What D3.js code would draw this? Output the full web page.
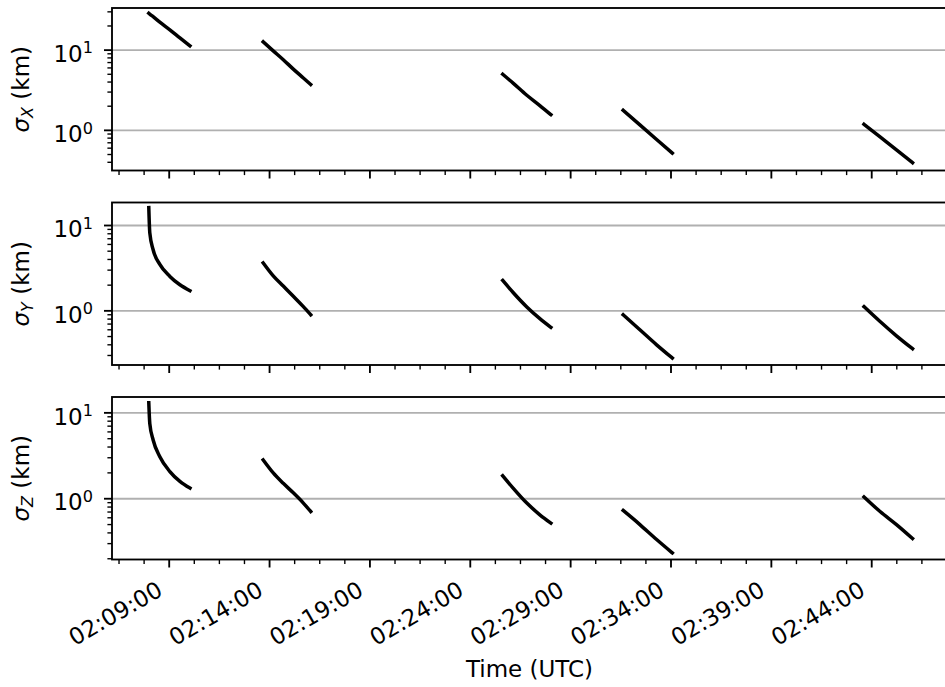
<!DOCTYPE html>
<html>
<head>
<meta charset="utf-8">
<script src="https://cdn.jsdelivr.net/npm/d3@7"></script>
<style>
  body { margin: 0; background: #fff; }
  svg { display: block; }
  text { font-family: "DejaVu Sans", sans-serif; fill: #000; }
</style>
</head>
<body>
<svg id="chart" width="945" height="687"></svg>
<script>
// Sample times of each tracking pass (UTC)
const pass1Times = ["02:07:59", "02:08:02", "02:08:12", "02:08:32", "02:09:02", "02:09:32", "02:10:02"];
const pass2Times = ["02:13:41", "02:14:11", "02:14:41", "02:15:11", "02:15:41", "02:16:03"];
const pass3Times = ["02:25:37", "02:26:08", "02:26:49", "02:27:28", "02:28:01"];
const pass4Times = ["02:31:37", "02:32:27", "02:33:17", "02:34:04"];
const pass5Times = ["02:43:37", "02:44:25", "02:45:14", "02:46:02"];

// Position uncertainty (km), one list per pass
const sigmaX = [
  [28.8, 28.1, 26.1, 22.3, 17.9, 14.2, 11.3],
  [12.7, 9.8, 7.6, 5.8, 4.5, 3.73],
  [5.0, 3.88, 2.74, 2.04, 1.57],
  [1.78, 1.17, 0.77, 0.52],
  [1.19, 0.83, 0.57, 0.395]
];
const sigmaY = [
  [16.2, 8.2, 5.2, 3.5, 2.53, 2.02, 1.72],
  [3.64, 2.57, 1.95, 1.48, 1.12, 0.90],
  [2.27, 1.64, 1.11, 0.81, 0.64],
  [0.90, 0.60, 0.40, 0.28],
  [1.12, 0.75, 0.51, 0.36]
];
const sigmaZ = [
  [13.1, 7.5, 4.83, 3.09, 2.07, 1.59, 1.33],
  [2.83, 2.0, 1.51, 1.17, 0.89, 0.71],
  [1.85, 1.33, 0.89, 0.65, 0.52],
  [0.73, 0.50, 0.335, 0.234],
  [1.05, 0.71, 0.50, 0.344]
];

// Axis limits
const timeLimits = ["02:06:09", "02:47:57"];
const majorTickStart = "02:09:00";
const yLimitsX = [0.316, 33.5];
const yLimitsY = [0.232, 18.6];
const yLimitsZ = [0.196, 15.3];
const axisNames = ["X", "Y", "Z"];
const xAxisTitle = "Time (UTC)";

const parseTime = d3.utcParse("%H:%M:%S");
const fmtTime = d3.utcFormat("%H:%M:%S");
const passTimes = [pass1Times, pass2Times, pass3Times, pass4Times, pass5Times].map(a => a.map(parseTime));

const svg = d3.select("#chart");
const left = 112, right = 951, panelH = 162.5;
const panelTops = [8, 202.5, 397];
const fontSize = 23;
const majorLen = 8, minorLen = 4.6, tickW = 1.85;

const x = d3.scaleUtc().domain(timeLimits.map(parseTime)).range([left, right]);

// Major ticks every 5 min, minor every 75 s
const t0 = parseTime(majorTickStart);
const tEnd = x.domain()[1];
const majorTicks = [];
for (let t = +t0; t <= +tEnd; t += 5 * 60000) majorTicks.push(new Date(t));
const minorTicks = [];
for (let t = +t0 - 2 * 75000; t <= +tEnd; t += 75000) {
  if ((t - t0) % 300000 !== 0) minorTicks.push(new Date(t));
}

const line = d3.line().curve(d3.curveMonotoneX);

const panels = [
  { name: axisNames[0], values: sigmaX, limits: yLimitsX },
  { name: axisNames[1], values: sigmaY, limits: yLimitsY },
  { name: axisNames[2], values: sigmaZ, limits: yLimitsZ }
];

panels.forEach((p, i) => {
  const top = panelTops[i], bottom = top + panelH;
  const y = d3.scaleLog().domain(p.limits).range([bottom, top]);
  const g = svg.append("g");

  const lo = Math.floor(Math.log10(p.limits[0])), hi = Math.ceil(Math.log10(p.limits[1]));
  const majors = [], minors = [];
  for (let e = lo; e <= hi; e++) {
    const base = Math.pow(10, e);
    if (base >= p.limits[0] && base <= p.limits[1]) majors.push({ v: base, e });
    for (let m = 2; m <= 9; m++) {
      const v = m * base;
      if (v >= p.limits[0] && v <= p.limits[1]) minors.push(v);
    }
  }

  // horizontal grid at decades
  g.selectAll(".grid").data(majors).join("line")
    .attr("x1", left).attr("x2", right)
    .attr("y1", d => y(d.v)).attr("y2", d => y(d.v))
    .attr("stroke", "#b0b0b0").attr("stroke-width", 1.85);

  // uncertainty curves per pass
  g.selectAll(".pass").data(p.values).join("path")
    .attr("d", (vals, k) => line(vals.map((v, j) => [x(passTimes[k][j]), y(v)])))
    .attr("fill", "none").attr("stroke", "#000").attr("stroke-width", 3.5)
    .attr("stroke-linecap", "square");

  // y ticks
  g.selectAll(".ymaj").data(majors).join("line")
    .attr("x1", left - majorLen).attr("x2", left)
    .attr("y1", d => y(d.v)).attr("y2", d => y(d.v))
    .attr("stroke", "#000").attr("stroke-width", tickW);
  g.selectAll(".ymin").data(minors).join("line")
    .attr("x1", left - minorLen).attr("x2", left)
    .attr("y1", d => y(d)).attr("y2", d => y(d))
    .attr("stroke", "#000").attr("stroke-width", tickW * 0.75);
  const lab = g.selectAll(".ylab").data(majors).join("text")
    .attr("x", 93).attr("y", d => y(d.v) + 11.7)
    .attr("text-anchor", "end").style("font-size", fontSize + "px");
  lab.append("tspan").text("10");
  lab.append("tspan").attr("dy", -8.5).style("font-size", (fontSize * 0.7) + "px").text(d => d.e);

  // x ticks
  g.selectAll(".xmaj").data(majorTicks).join("line")
    .attr("x1", d => x(d)).attr("x2", d => x(d))
    .attr("y1", bottom).attr("y2", bottom + majorLen)
    .attr("stroke", "#000").attr("stroke-width", tickW);
  g.selectAll(".xmin").data(minorTicks).join("line")
    .attr("x1", d => x(d)).attr("x2", d => x(d))
    .attr("y1", bottom).attr("y2", bottom + minorLen)
    .attr("stroke", "#000").attr("stroke-width", tickW * 0.75);

  if (i === panels.length - 1) {
    g.selectAll(".xlab").data(majorTicks).join("text")
      .attr("transform", d => `translate(${x(d) - 5},${bottom + 35}) rotate(-30)`)
      .attr("text-anchor", "end").style("font-size", fontSize + "px")
      .text(d => fmtTime(d));
  }

  // frame
  g.append("rect")
    .attr("x", left).attr("y", top).attr("width", right - left).attr("height", panelH)
    .attr("fill", "none").attr("stroke", "#000").attr("stroke-width", tickW);

  // y-axis title
  const title = g.append("text")
    .attr("transform", `translate(29,${top + panelH / 2}) rotate(-90)`)
    .attr("text-anchor", "middle").style("font-size", fontSize + "px");
  title.append("tspan").style("font-style", "italic").text("σ");
  title.append("tspan").attr("dy", 4).style("font-style", "italic")
    .style("font-size", (fontSize * 0.7) + "px").text(p.name);
  title.append("tspan").attr("dy", -4).text(" (km)");
});

svg.append("text")
  .attr("x", (left + right) / 2 - 2).attr("y", 677)
  .attr("text-anchor", "middle").style("font-size", fontSize + "px")
  .text(xAxisTitle);
</script>
</body>
</html>
